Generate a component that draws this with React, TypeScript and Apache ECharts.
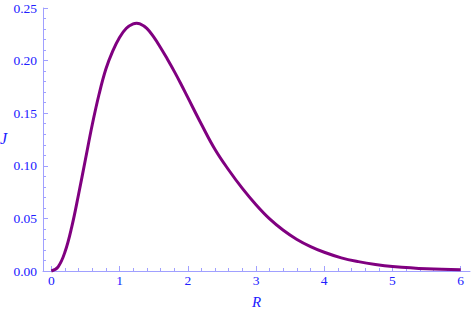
import React, { useEffect, useRef } from "react";
import * as echarts from "echarts";

const rValues = [0, 0.1, 0.2, 0.3, 0.4, 0.5, 0.6, 0.7, 0.8, 0.9, 1.0, 1.1, 1.2, 1.25, 1.3, 1.4, 1.5, 1.6, 1.7, 1.8, 1.9, 2.0, 2.2, 2.4, 2.6, 2.8, 3.0, 3.2, 3.4, 3.6, 3.8, 4.0, 4.25, 4.5, 4.75, 5.0, 5.5, 6.0];
const jValues = [0, 0.004, 0.018, 0.042, 0.073, 0.106, 0.139, 0.168, 0.192, 0.209, 0.222, 0.2307, 0.2350, 0.2355, 0.2350, 0.2306, 0.2225, 0.2125, 0.2015, 0.190, 0.1778, 0.165, 0.1395, 0.1155, 0.096, 0.0785, 0.063, 0.0495, 0.0387, 0.0300, 0.0232, 0.0178, 0.0125, 0.0089, 0.0062, 0.0043, 0.0021, 0.0012];

const xTickMin = 0;
const xTickMax = 6;
const xTickStep = 1;
const yTickMin = 0;
const yTickMax = 0.25;
const yTickStep = 0.05;
const xName = "R";
const yName = "J";

const AXIS = "#a0a0ff";
const LABEL = "#2020ff";
const CURVE = "#800080";
const FONT = "Liberation Serif";

export default function App() {
  const ref = useRef<HTMLDivElement>(null);
  useEffect(() => {
    if (!ref.current) return;
    const chart = echarts.init(ref.current, null, { renderer: "svg" });
    const data = rValues.map((r, i) => [r, jValues[i]]);
    chart.setOption({
      animation: false,
      backgroundColor: "#ffffff",
      grid: [
        { left: 51.3, right: 10.3, top: 8, bottom: 39 },
        { left: 43, right: 1, top: 8, bottom: 39 },
      ],
      xAxis: [
        {
          type: "value",
          gridIndex: 0,
          min: xTickMin,
          max: xTickMax,
          interval: xTickStep,
          axisLine: { show: false },
          axisTick: { show: true, inside: true, length: 5, lineStyle: { color: AXIS, width: 1 } },
          minorTick: { show: true, splitNumber: 5, length: 3, lineStyle: { color: AXIS, width: 1 } },
          splitLine: { show: false },
          axisLabel: { color: LABEL, fontFamily: FONT, fontSize: 13.5, margin: 2 },
        },
        {
          type: "value",
          gridIndex: 1,
          min: 0,
          max: 1,
          axisLine: { show: true, lineStyle: { color: AXIS, width: 1 } },
          axisTick: { show: false },
          axisLabel: { show: false },
          splitLine: { show: false },
        },
      ],
      yAxis: [
        {
          type: "value",
          gridIndex: 0,
          min: yTickMin,
          max: yTickMax,
          show: false,
          splitLine: { show: false },
        },
        {
          type: "value",
          gridIndex: 1,
          min: yTickMin,
          max: yTickMax,
          interval: yTickStep,
          axisLine: { show: true, lineStyle: { color: AXIS, width: 1 } },
          axisTick: { show: true, inside: true, length: 5, lineStyle: { color: AXIS, width: 1 } },
          minorTick: { show: true, splitNumber: 5, length: 3, lineStyle: { color: AXIS, width: 1 } },
          splitLine: { show: false },
          axisLabel: {
            color: LABEL,
            fontFamily: FONT,
            fontSize: 13.5,
            margin: 6,
            formatter: (v: number) => v.toFixed(2),
          },
        },
      ],
      graphic: [
        {
          type: "text",
          left: 0,
          top: 130,
          style: { text: yName, fontFamily: FONT, fontStyle: "italic", fontSize: 16, fill: LABEL },
        },
        {
          type: "text",
          left: 252,
          top: 294,
          style: { text: xName, fontFamily: FONT, fontStyle: "italic", fontSize: 15, fill: LABEL },
        },
      ],
      series: [
        {
          type: "line",
          xAxisIndex: 0,
          yAxisIndex: 0,
          data,
          smooth: 0.4,
          symbol: "none",
          clip: false,
          lineStyle: { color: CURVE, width: 3 },
        },
      ],
    });
    return () => chart.dispose();
  }, []);
  return <div ref={ref} style={{ position: "fixed", left: 0, top: 0, width: 471, height: 310 }} />;
}
